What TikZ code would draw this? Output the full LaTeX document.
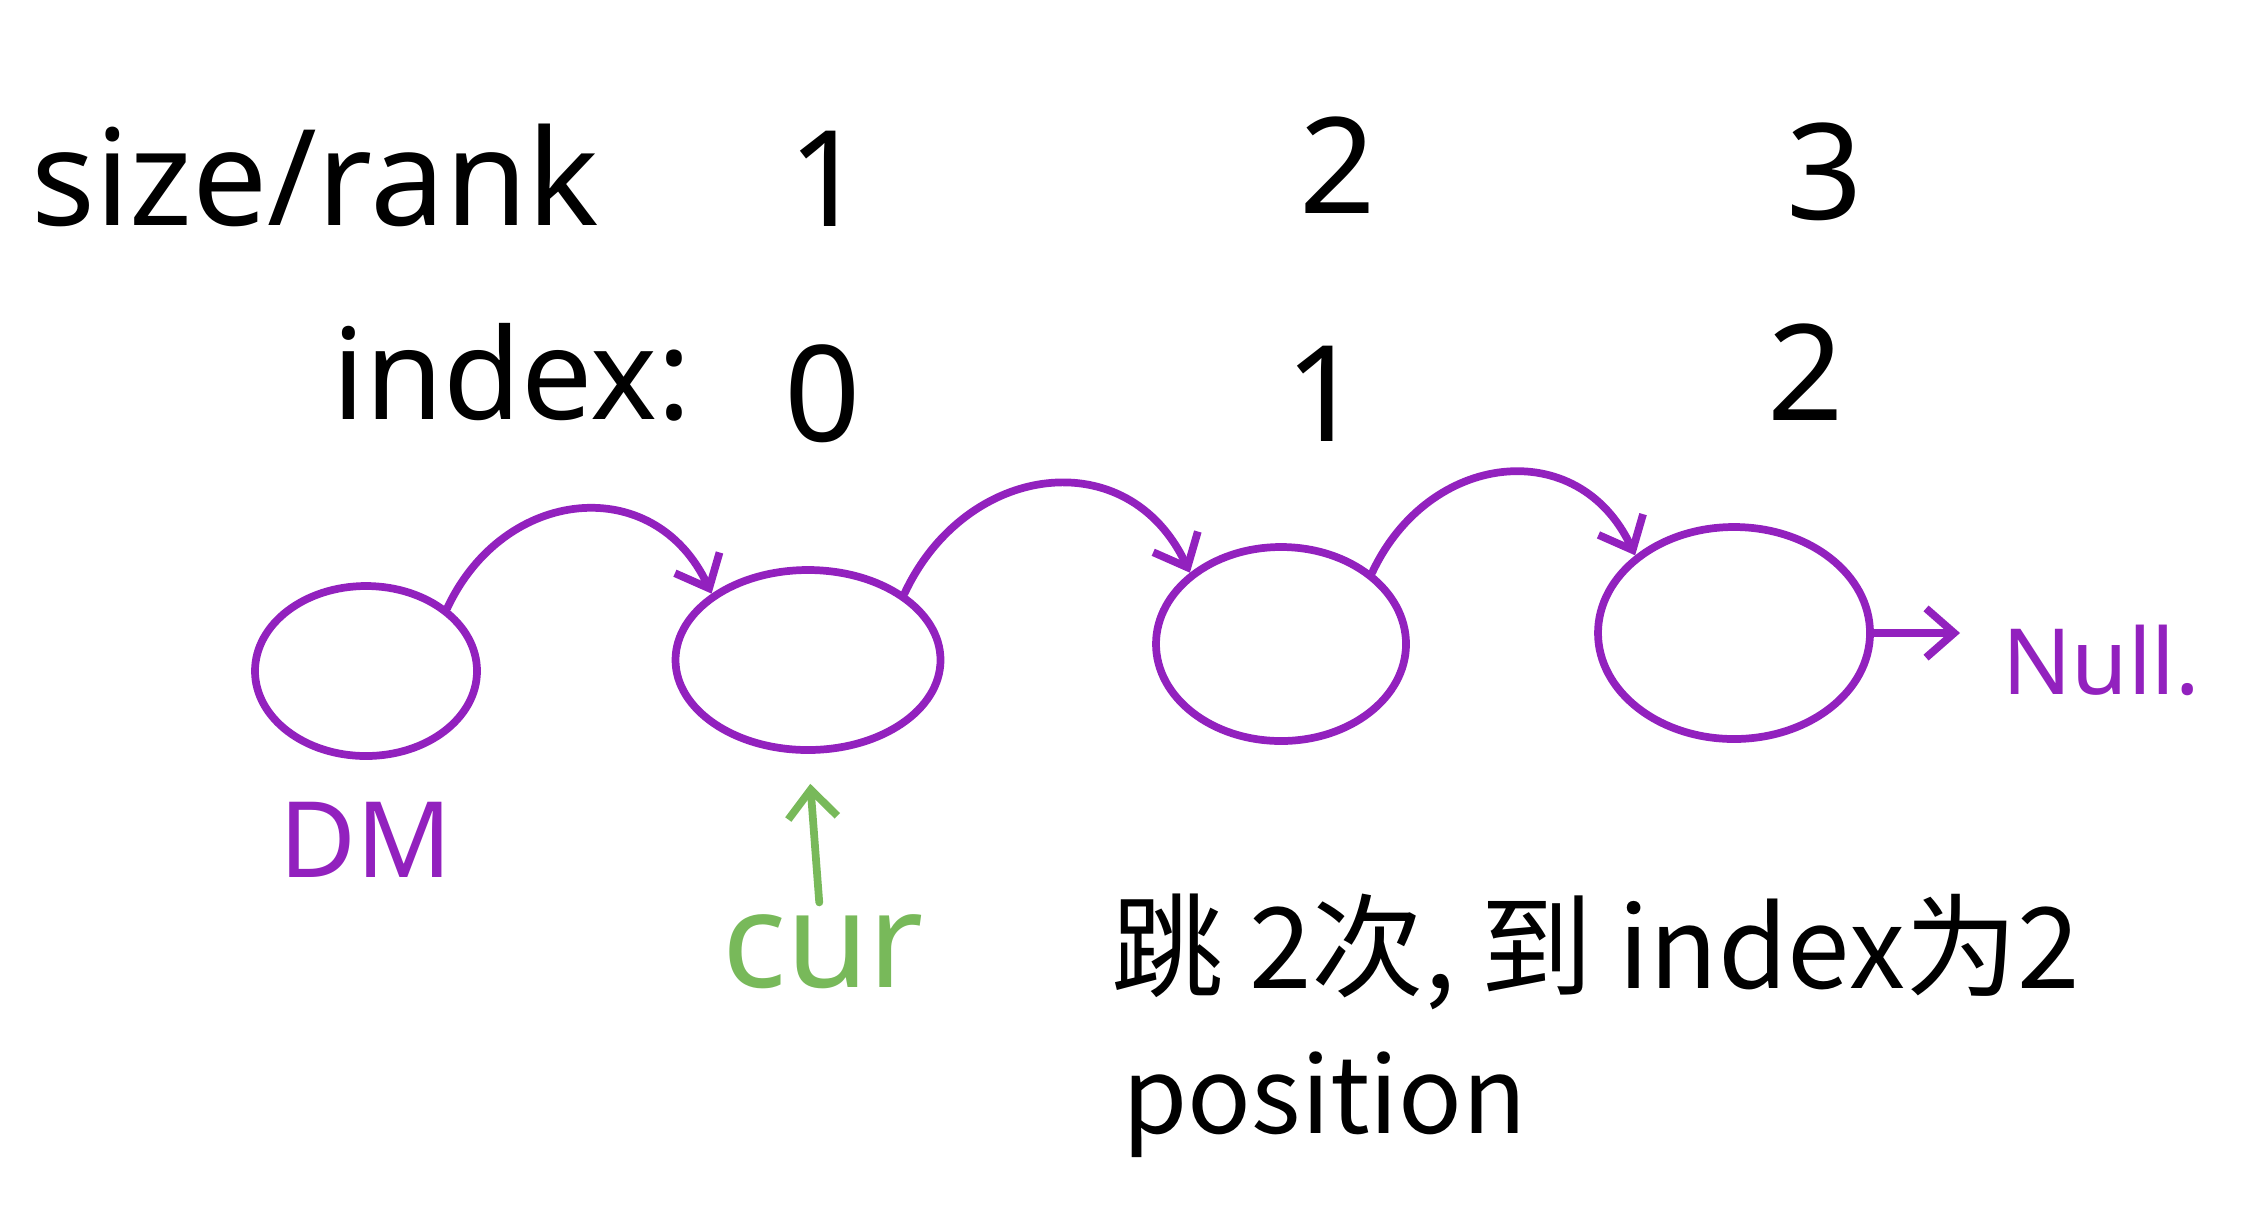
\documentclass[tikz,border=0pt]{standalone}
\usepackage{fontspec}
\setmainfont{Noto Sans}
\newfontfamily\cjk{Noto Sans CJK SC}
\usetikzlibrary{
  arrows.meta,
  positioning,
  shapes.geometric
}
\definecolor{linkcol}{RGB}{146,33,190}
\definecolor{curcol}{RGB}{120,185,90}

\begin{document}
\begin{tikzpicture}[
  every node/.style={font=\fontsize{38}{42}\selectfont},
  >={Straight Barb[length=8pt,width=14pt]},
  listnode/.style={draw=linkcol, ellipse, line width=2.2pt, inner sep=0pt},
  link/.style={->, draw=linkcol, line width=2.2pt, line cap=round},
  note/.style={font=\cjk\fontsize{32}{36}\selectfont}
]
\useasboundingbox (0,0) rectangle (22.44,-12.29);

% size/rank row
\node (rank) at (3.15,-1.75) {size/rank};
\node (r1) at (8.27,-1.79) {1};
\node (r2) at (13.38,-1.65) {2};
\node (r3) at (18.25,-1.72) {3};

% index row
\node[font=\fontsize{36}{40}\selectfont] (index) at (5.12,-3.72) {index:};
\node (i0) at (8.23,-3.94) {0};
\node (i1) at (13.24,-3.94) {1};
\node (i2) at (18.06,-3.72) {2};

% list nodes
\node[listnode, minimum width=2.22cm, minimum height=1.70cm] (dm) at (3.66,-6.71) {};
\node[listnode, minimum width=2.65cm, minimum height=1.80cm] (n1) at (8.08,-6.60) {};
\node[listnode, minimum width=2.50cm, minimum height=1.94cm] (n2) at (12.81,-6.44) {};
\node[listnode, minimum width=2.72cm, minimum height=2.12cm] (n3) at (17.34,-6.33) {};
\node[text=linkcol, font=\fontsize{26}{30}\selectfont, anchor=west] (null) at (19.9,-6.6) {Null.};

\draw[link] (dm.north east) to[out=65, in=115, looseness=1.3] (n1.north west);
\draw[link] (n1.north east) to[out=65, in=115, looseness=1.3] (n2.north west);
\draw[link] (n2.north east) to[out=65, in=115, looseness=1.3] (n3.north west);
\draw[link, shorten >=0.3cm] (n3.east) -- (n3.east -| null.west);

\node[text=linkcol, font=\fontsize{30}{34}\selectfont, below=0.3cm of dm] (dmlbl) {DM};

% cur pointer
\node[text=curcol] (cur) at (8.23,-9.52) {cur};
\draw[->, draw=curcol, line width=2.2pt, line cap=round, shorten >=0.3cm] (cur) -- (n1.south);

% note
\node[note] (step) at (15.96,-9.52) {跳 2次, 到 index为2};
\node[note, font=\cjk\fontsize{30}{34}\selectfont, anchor=west] (pos) at (11.10,-11.05) {position};

\end{tikzpicture}
\end{document}
